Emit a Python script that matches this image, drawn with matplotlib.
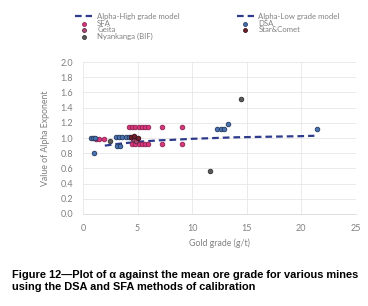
import matplotlib
matplotlib.use("Agg")
import matplotlib.pyplot as plt

plt.rcParams['font.family'] = ['Lato', 'DejaVu Sans']

# Model lines
high_x = [5.0, 6, 7, 8, 10, 12, 14, 16, 18, 20, 21.2]
high_y = [0.95, 0.96, 0.97, 0.975, 0.99, 1.0, 1.01, 1.015, 1.02, 1.025, 1.03]
low_x = [2.0, 3, 4, 5]
low_y = [0.90, 0.92, 0.935, 0.95]

# Series
sfa_x = [1.2, 1.5, 1.9, 4.2, 4.5, 4.8, 5.1, 5.4, 5.7, 6.0, 7.2, 9.1,
         4.5, 4.8, 5.1, 5.4, 5.7, 6.0, 7.2, 9.1]
sfa_y = [0.99, 0.99, 0.99, 1.14, 1.14, 1.14, 1.14, 1.14, 1.14, 1.14, 1.14, 1.14,
         0.92, 0.92, 0.92, 0.92, 0.92, 0.92, 0.92, 0.92]
dsa_x = [0.7, 0.9, 1.1, 1.0, 3.0, 3.3, 3.6, 3.9, 4.2, 3.1, 3.4,
         12.3, 12.6, 12.9, 13.3, 21.4]
dsa_y = [1.0, 1.0, 1.0, 0.8, 1.02, 1.02, 1.02, 1.02, 1.02, 0.89, 0.89,
         1.12, 1.12, 1.12, 1.18, 1.12]
geita_x = [4.6, 4.9]
geita_y = [0.99, 0.96]
star_x = [4.4, 4.7, 5.0]
star_y = [1.02, 1.03, 1.0]
nyan_x = [2.45, 11.6, 14.5]
nyan_y = [0.96, 0.57, 1.51]

x_ticks = [0, 5, 10, 15, 20, 25]
y_ticks = [0.0, 0.2, 0.4, 0.6, 0.8, 1.0, 1.2, 1.4, 1.6, 1.8, 2.0]

fig = plt.figure(figsize=(3.68, 3.06), dpi=100)
ax = fig.add_axes([0.2255, 0.3007, 0.7415, 0.4963])

grid_c = '#e6e6e6'
ax.set_axisbelow(True)
ax.grid(True, color=grid_c, linewidth=0.6)
for s in ['top', 'right', 'left']:
    ax.spines[s].set_visible(False)
ax.spines['bottom'].set_color('#d9d9d9')
ax.spines['bottom'].set_linewidth(0.6)

navy = '#2e3a8c'
lh, = ax.plot(high_x, high_y, color=navy, lw=1.6, ls=(0, (3, 1.8)), label='Alpha-High grade model')
ll, = ax.plot(low_x, low_y, color=navy, lw=1.6, ls=(0, (3, 1.8)), label='Alpha-Low grade model')

ms = 11
s1 = ax.scatter(sfa_x, sfa_y, s=ms, c='#d9357a', edgecolors='#8c2452', linewidths=0.6, label='SFA', zorder=3)
s2 = ax.scatter(dsa_x, dsa_y, s=ms, c='#4a72b0', edgecolors='#243a5e', linewidths=0.6, label='DSA', zorder=3)
s3 = ax.scatter(geita_x, geita_y, s=ms, c='#a84a74', edgecolors='#5e2640', linewidths=0.6, label='Geita', zorder=4)
s4 = ax.scatter(star_x, star_y, s=ms, c='#6e1f2c', edgecolors='#3a0f16', linewidths=0.6, label='Star&Comet', zorder=4)
s5 = ax.scatter(nyan_x, nyan_y, s=ms, c='#5a5a5a', edgecolors='#333333', linewidths=0.6, label='Nyankanga (BIF)', zorder=3)

ax.set_xlim(0, 25)
ax.set_ylim(0, 2.0)
ax.set_xticks(x_ticks)
ax.set_yticks(y_ticks)
ax.set_yticklabels([f'{v:.1f}' for v in y_ticks])
ax.tick_params(axis='both', length=0, labelsize=6.5, colors='#808080', pad=7)
ax.set_xlabel('Gold grade (g/t)', fontsize=6.3, color='#808080', labelpad=4)
ax.set_ylabel('Value of Alpha Exponent', fontsize=6.3, color='#808080', labelpad=8)

handles = [lh, s1, s3, s5, ll, s2, s4]
labels = [h.get_label() for h in handles]
leg = fig.legend(handles, labels, ncol=2, loc='upper left', bbox_to_anchor=(0.19, 0.975),
                 frameon=False, fontsize=5.6, labelcolor='#808080', handlelength=2.2,
                 columnspacing=7.3, labelspacing=-0.05, handletextpad=0.6, borderpad=0.2,
                 markerscale=0.85)

fig.text(12/368, 1 - 270/306, 'Figure 12\u2014Plot of \u03b1 against the mean ore grade for various mines\nusing the DSA and SFA methods of calibration',
         fontsize=7.9, fontweight='bold', family='Liberation Sans', va='top', ha='left', linespacing=1.3)

fig.savefig('out.png', dpi=100)
